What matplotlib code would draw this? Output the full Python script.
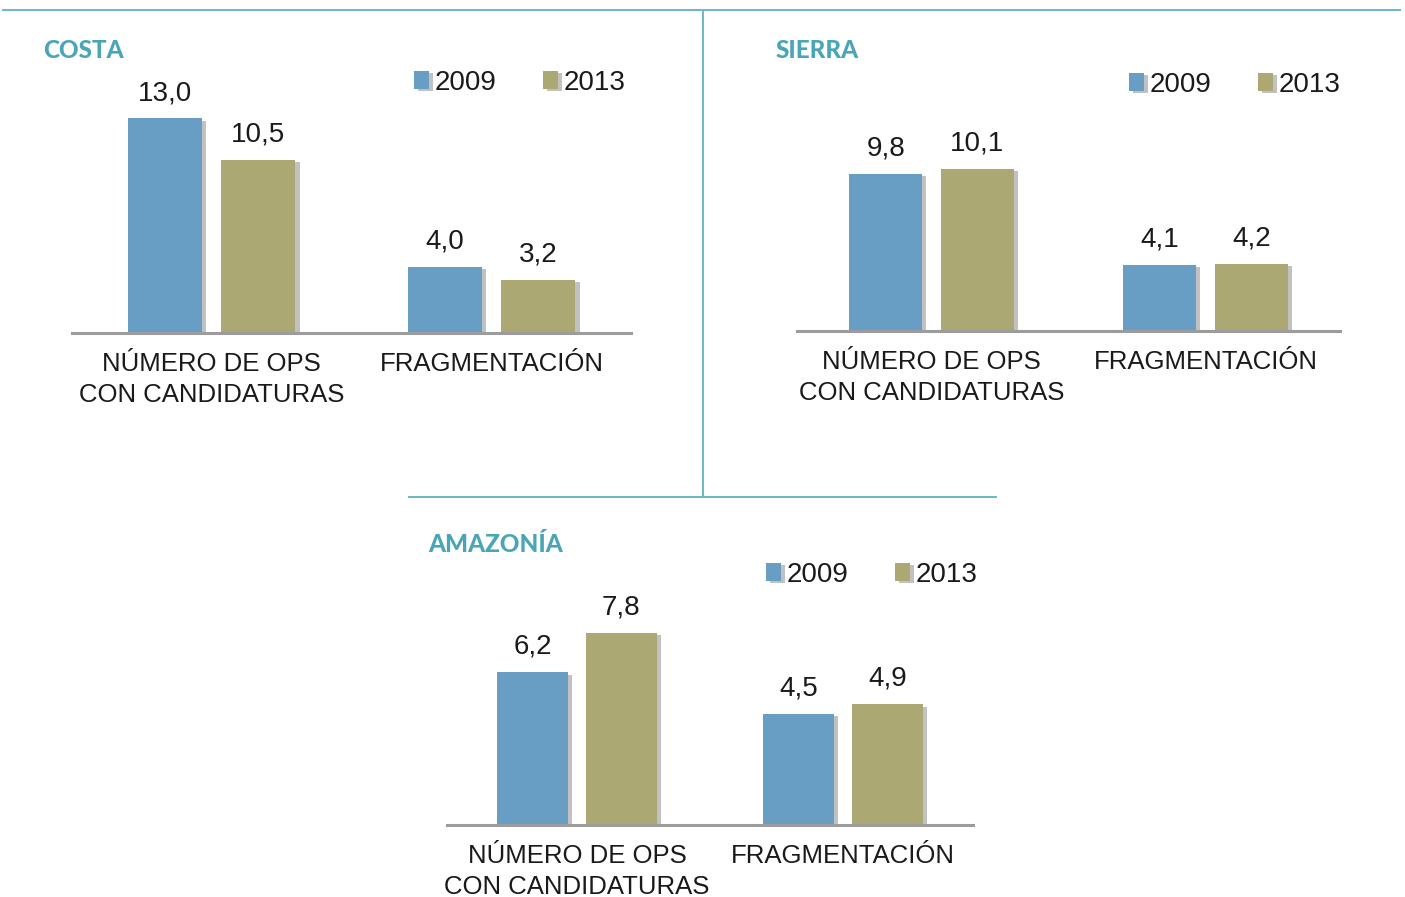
import matplotlib
matplotlib.use("Agg")
import matplotlib.pyplot as plt
from matplotlib.lines import Line2D
import matplotlib.patheffects as pe

# ---- data ----
categories = ["NÚMERO DE OPS\nCON CANDIDATURAS", "FRAGMENTACIÓN"]
series_names = ["2009", "2013"]
regions = ["COSTA", "SIERRA", "AMAZONÍA"]
costa_2009 = [13.0, 4.0]
costa_2013 = [10.5, 3.2]
sierra_2009 = [9.8, 4.1]
sierra_2013 = [10.1, 4.2]
amazonia_2009 = [6.2, 4.5]
amazonia_2013 = [7.8, 4.9]

# ---- style ----
W, H = 1405, 897
BLUE = "#689DC4"
OLIVE = "#ABA874"
TEAL = "#4AA5B8"
LINE_TEAL = "#6DB7C7"
AXIS_GRAY = "#9C9C9C"
TXT = "#1a1a1a"
BASE_FONT = ["Liberation Sans", "DejaVu Sans"]
TITLE_FONT = ["Lato", "DejaVu Sans"]

fig = plt.figure(figsize=(W / 100, H / 100), dpi=100)
fig.patch.set_facecolor("white")

def fmt(v):
    return f"{v:.1f}".replace(".", ",")

shadow = [pe.SimplePatchShadow(offset=(3, -1.5), shadow_rgbFace="#666666", alpha=0.4), pe.Normal()]

def panel(title, v09, v13, x0, x1, c0, c1, ybase, scale, title_xy, leg_xy):
    ytop = 30 if ybase < 500 else 520
    ax = fig.add_axes([x0 / W, (H - ybase) / H, (x1 - x0) / W, (ybase - ytop) / H])
    span = c1 - c0
    ax.set_xlim((x0 - c0) / span, (x1 - c0) / span)
    ax.set_ylim(0, (ybase - ytop) / scale)
    xs = list(range(len(categories)))
    w = 0.265
    off = 0.167
    b1 = ax.bar([x - off for x in xs], v09, width=w, color=BLUE, label=series_names[0], zorder=3)
    b2 = ax.bar([x + off for x in xs], v13, width=w, color=OLIVE, label=series_names[1], zorder=3)
    for bars, vals in ((b1, v09), (b2, v13)):
        for r, v in zip(bars, vals):
            r.set_path_effects(shadow)
            ax.annotate(fmt(v), (r.get_x() + r.get_width() / 2, v), xytext=(0, 9),
                        textcoords="offset points", ha="center", va="bottom",
                        fontsize=20, color=TXT, family=BASE_FONT)
    for s in ("top", "right", "left"):
        ax.spines[s].set_visible(False)
    ax.spines["bottom"].set_color(AXIS_GRAY)
    ax.spines["bottom"].set_linewidth(2.2)
    ax.spines["bottom"].set_zorder(4)
    ax.set_yticks([])
    ax.set_xticks(xs)
    ax.set_xticklabels(categories, fontsize=18.5, color=TXT, family=BASE_FONT, linespacing=1.32)
    ax.tick_params(axis="x", length=0, pad=14)
    ax.patch.set_alpha(0)
    fig.text(title_xy[0] / W, 1 - title_xy[1] / H, title, fontsize=17.5, fontweight="black",
             color=TEAL, family=TITLE_FONT, ha="left", va="center")
    leg = ax.legend(handles=[b1, b2], loc="center left",
                    bbox_to_anchor=(leg_xy[0] / W, 1 - leg_xy[1] / H), bbox_transform=fig.transFigure,
                    ncol=2, frameon=False, borderpad=0, borderaxespad=0,
                    handlelength=0.55, handleheight=0.6, handletextpad=0.2, columnspacing=1.65,
                    prop={"family": BASE_FONT, "size": 20})
    for t in leg.get_texts():
        t.set_color(TXT)
    return ax

panel(regions[0], costa_2009, costa_2013, 72, 631, 211.5, 491.5, 333, 16.5, (43, 51), (414, 83))
panel(regions[1], sierra_2009, sierra_2013, 797, 1340, 931.5, 1205.5, 331, 16.0, (776, 51), (1129, 85))
panel(regions[2], amazonia_2009, amazonia_2013, 447, 973, 577, 843, 825, 24.6, (428, 544), (766, 575))

# separator lines
fig.add_artist(Line2D([3 / W, 1400 / W], [1 - 10 / H, 1 - 10 / H], color=LINE_TEAL, lw=1.4, transform=fig.transFigure))
fig.add_artist(Line2D([703 / W, 703 / W], [1 - 10 / H, 1 - 497 / H], color=LINE_TEAL, lw=1.4, transform=fig.transFigure))
fig.add_artist(Line2D([409 / W, 996 / W], [1 - 497 / H, 1 - 497 / H], color=LINE_TEAL, lw=1.4, transform=fig.transFigure))

fig.savefig("out.png", dpi=100, facecolor="white")
